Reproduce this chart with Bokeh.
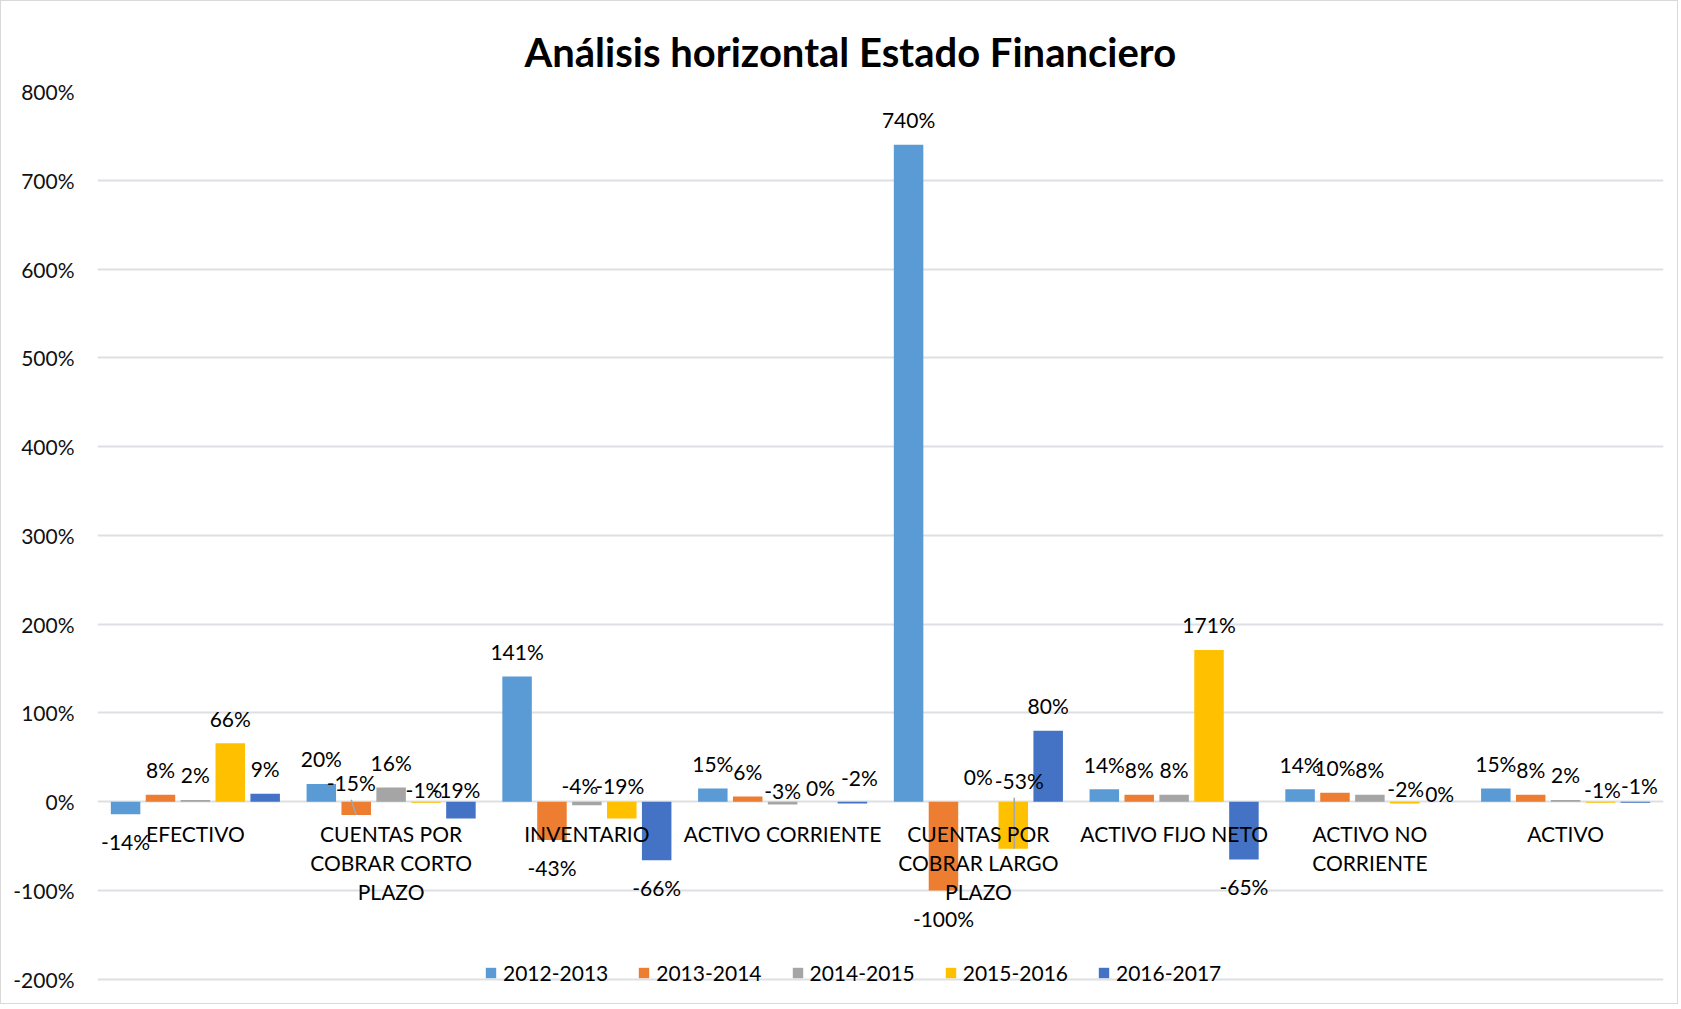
import textwrap
import numpy as np
from bokeh.plotting import figure
from bokeh.models import ColumnDataSource, FixedTicker, Legend, LegendItem
from bokeh.core.properties import value
from bokeh.embed import file_html
from bokeh.resources import INLINE

# ---------------- data ----------------
categories = ["EFECTIVO", "CUENTAS POR COBRAR CORTO PLAZO", "INVENTARIO",
              "ACTIVO CORRIENTE", "CUENTAS POR COBRAR LARGO PLAZO",
              "ACTIVO FIJO NETO", "ACTIVO NO CORRIENTE", "ACTIVO"]
series_names = ["2012-2013", "2013-2014", "2014-2015", "2015-2016", "2016-2017"]
v_2012_2013 = [-14, 20, 141, 15, 740, 14, 14, 15]
v_2013_2014 = [8, -15, -43, 6, -100, 8, 10, 8]
v_2014_2015 = [2, 16, -4, -3, 0, 8, 8, 2]
v_2015_2016 = [66, -1, -19, 0, -53, 171, -2, -1]
v_2016_2017 = [9, -19, -66, -2, 80, -65, 0, -1]
y_ticks = [-200, -100, 0, 100, 200, 300, 400, 500, 600, 700, 800]
series_values = [v_2012_2013, v_2013_2014, v_2014_2015, v_2015_2016, v_2016_2017]

# ---------------- style / layout ----------------
FONT = "Lato"
colors = ["#5B9BD5", "#ED7D31", "#A5A5A5", "#FFC000", "#4472C4"]
W, H = 1678, 1004
ML, MR, MT, MB = 96, 16, 90, 4
FRAME_W = W - ML - MR
FRAME_H = H - MT - MB
Y0, Y1 = -225, 800
PX_X = FRAME_W / len(categories)      # px per category
PX_Y = FRAME_H / (Y1 - Y0)            # px per percent
STEP = 34.9 / PX_X
BAR_W = 29.5 / PX_X
GAP_POS = -25.0
GAP_NEG = 27.5
# labels that Excel moved above the zero line: (cat, series) -> (dx px, dy px from zero)
ABOVE_ZERO = {(1, 1): (-5, -19.5), (1, 3): (-2, -12), (1, 4): (-5, -12),
              (2, 2): (-7, -16.5), (2, 3): (-2, -16.5),
              (3, 2): (0, -11), (3, 3): (3, -14), (3, 4): (7, -24),
              (4, 3): (6, -21.5),
              (6, 3): (1, -13), (6, 4): (0, -8.6),
              (7, 3): (2, -12), (7, 4): (4, -16)}
LEADERS = {(1, 1): -5, (4, 3): 1}

p = figure(width=W, height=H, x_range=(0, len(categories)), y_range=(Y0, Y1),
           output_backend="svg", toolbar_location=None, x_axis_location=None,
           min_border_left=ML, min_border_right=MR, min_border_top=MT,
           min_border_bottom=MB, title="Análisis horizontal Estado Financiero")
p.styles = {"border": "1px solid #D9D9D9"}
p.outline_line_color = None
p.background_fill_color = "white"
p.border_fill_color = "white"
p.xgrid.grid_line_color = None
p.xgrid.visible = False

p.title.align = "left"
p.title.offset = 427
p.title.text_font = FONT
p.title.text_font_style = "bold"
p.title.text_font_size = "40px"
p.title.text_color = "#000000"
p.title.standoff = 31

p.yaxis.ticker = FixedTicker(ticks=y_ticks)
p.yaxis.major_label_overrides = {t: f"{t}%" for t in y_ticks}
p.yaxis.axis_line_color = None
p.yaxis.major_tick_line_color = None
p.yaxis.minor_tick_line_color = None
p.yaxis.major_tick_out = 0
p.yaxis.major_tick_in = 0
p.yaxis.major_label_standoff = 23
p.yaxis.major_label_text_font = FONT
p.yaxis.major_label_text_font_size = "21px"
p.yaxis.major_label_text_color = "#111111"
p.ygrid.ticker = FixedTicker(ticks=y_ticks)
p.ygrid.grid_line_color = "#DCDFE4"
p.ygrid.grid_line_width = 2

n = len(categories)
centers = np.arange(n) + 0.5
renderers = []
lab_x, lab_y, lab_t, lab_dx, lab_dy = [], [], [], [], []
seg_x0, seg_y0, seg_x1, seg_y1 = [], [], [], []
for s, vals in enumerate(series_values):
    xs = centers + (s - 2) * STEP
    src = ColumnDataSource(dict(x=xs, top=vals))
    r = p.vbar(x="x", top="top", bottom=0, width=BAR_W, source=src,
               fill_color=colors[s], line_color=None)
    renderers.append(r)
    for c, v in enumerate(vals):
        lab_t.append(f"{v}%")
        lab_x.append(xs[c])
        if (c, s) in ABOVE_ZERO:
            dx, dy = ABOVE_ZERO[(c, s)]
            lab_y.append(0)
            lab_dx.append(dx)
            lab_dy.append(dy)
            if (c, s) in LEADERS:
                seg_x0.append(xs[c] + LEADERS[(c, s)] / PX_X)
                seg_y0.append(-(dy + 17.5) / PX_Y)
                seg_x1.append(xs[c] + (0 if LEADERS[(c, s)] < 0 else LEADERS[(c, s)]) / PX_X)
                seg_y1.append(v)
        else:
            lab_y.append(v)
            lab_dx.append(0)
            lab_dy.append(GAP_POS if v >= 0 else GAP_NEG)

p.segment(x0=seg_x0, y0=seg_y0, x1=seg_x1, y1=seg_y1, line_color="#A6A6A6", line_width=1.5)

p.text(x=lab_x, y=lab_y, text=lab_t, x_offset=lab_dx, y_offset=lab_dy,
       text_align="center", text_baseline="middle", text_font=value(FONT),
       text_font_size="21px", text_color="#000000")

wrapped = ["\n".join(textwrap.wrap(c, 16)) for c in categories]
p.text(x=centers, y=[0] * n, text=wrapped, y_offset=19, text_align="center",
       text_baseline="top", text_line_height=1.17, text_font=value(FONT),
       text_font_size="21px", text_color="#000000")

legend = Legend(items=[LegendItem(label=nm, renderers=[r]) for nm, r in zip(series_names, renderers)],
                orientation="horizontal", location=(387, 16), glyph_width=13, glyph_height=13,
                label_standoff=6, spacing=29, padding=0, margin=0,
                border_line_color=None, background_fill_alpha=0,
                label_text_font=FONT, label_text_font_size="21px", label_text_color="#000000")
p.add_layout(legend)

open("out.html", "w").write(file_html(p, INLINE))
